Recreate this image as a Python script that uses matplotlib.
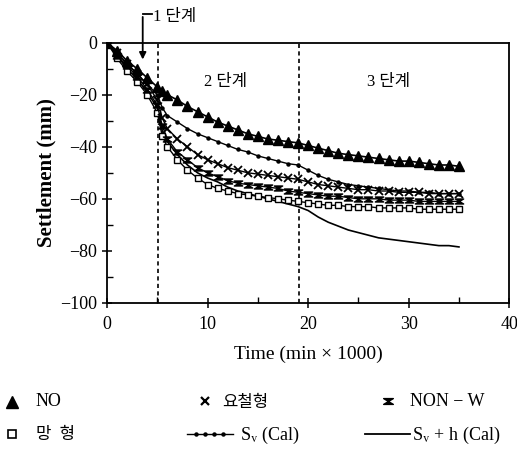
import matplotlib
matplotlib.use("Agg")
import matplotlib.pyplot as plt
from matplotlib.lines import Line2D
from matplotlib.path import Path
from matplotlib.ticker import MultipleLocator

plt.rcParams['font.family'] = ['Liberation Serif', 'Noto Sans CJK KR', 'DejaVu Sans']
plt.rcParams['mathtext.fontset'] = 'stix'

# ---- data ----
time_k = [0, 1, 2, 3, 4, 5, 5.5, 6, 7, 8, 9, 10, 11, 12, 13, 14, 15, 16, 17, 18, 19, 20,
          21, 22, 23, 24, 25, 26, 27, 28, 29, 30, 31, 32, 33, 34, 35]
no_vals = [0, -3, -7, -10, -13.5, -17, -18.5, -20, -22, -24.5, -26.5, -28.5,
           -30.5, -32, -33.5, -35, -36, -37, -37.5, -38, -38.5, -39.5,
           -40.5, -41.5, -42.5, -43, -43.5, -44, -44.5, -45, -45.5, -45.5,
           -46, -46.5, -47, -47, -47.5]
yochul_vals = [0, -4, -8, -12, -16, -22, -29, -33, -37, -40, -43, -45,
               -46.5, -48, -49, -50, -50.5, -51, -51.5, -52, -52.5, -53.5,
               -54.5, -55, -55.5, -56, -56.5, -56.5, -57, -57, -57.5, -57.5,
               -57.5, -58, -58, -58, -58]
nonw_vals = [0, -5, -9, -13, -18, -24, -32, -37, -42, -45, -48, -50,
             -51.5, -53, -54, -54.5, -55, -55.5, -56, -57, -57.5, -58,
             -58.5, -59, -59, -59.5, -60, -60, -60, -60.5, -60.5, -60.5,
             -61, -61, -61, -61, -61]
mang_vals = [0, -6, -11, -15, -20, -27, -36, -40, -45, -49, -52, -54.5,
             -56, -57, -58, -58.5, -59, -59.5, -60, -60.5, -61, -61.5,
             -62, -62.5, -62.5, -63, -63, -63, -63.5, -63.5, -63.5, -63.5,
             -64, -64, -64, -64, -64]
sv_cal = [0, -4, -8, -12, -16, -20, -25, -28, -30.5, -33, -35, -36.5,
          -38, -39.5, -41, -42, -43.5, -44.5, -45.5, -46.5, -47, -49,
          -51, -52.5, -53.5, -54.5, -55, -55.5, -56, -56.5, -57, -57,
          -57.5, -57.5, -58, -58, -58]
svh_cal = [0, -5, -10, -14, -19, -25, -34, -38, -43, -47, -50, -52,
           -53.5, -55.5, -57, -58, -59, -60, -61, -62, -63, -64.5,
           -67, -69, -70.5, -72, -73, -74, -75, -75.5, -76, -76.5,
           -77, -77.5, -78, -78, -78.5]
stage_bounds = [5.1, 19.1]
x_ticks = [0, 10, 20, 30, 40]
y_ticks = [0, -20, -40, -60, -80, -100]

hourglass = Path([(-1, 0.6), (1, 0.6), (-1, -0.6), (1, -0.6), (-1, 0.6)],
                 [Path.MOVETO, Path.LINETO, Path.LINETO, Path.LINETO, Path.CLOSEPOLY])

fig = plt.figure(figsize=(5.17, 4.5), dpi=100)
ax = fig.add_axes([0.207, 0.327, 0.778, 0.578])

ax.plot(time_k, svh_cal, '-', color='black', lw=1.2, zorder=2)
ax.plot(time_k, sv_cal, '-', color='black', lw=1.0, marker='o', ms=2.2, zorder=3)
ax.plot(time_k, mang_vals, '-', color='black', lw=1.0, marker='s', ms=5,
        mfc='white', mec='black', mew=1.0, zorder=4)
ax.plot(time_k, nonw_vals, '-', color='black', lw=1.0, marker=hourglass, ms=6,
        mfc='black', mec='black', zorder=4)
ax.plot(time_k, yochul_vals, '-', color='black', lw=1.0, marker='x', ms=6,
        mew=1.3, zorder=5)
ax.plot(time_k, no_vals, '-', color='black', lw=1.2, marker='^', ms=7.5,
        mfc='black', mec='black', zorder=6)

for xb in stage_bounds:
    ax.axvline(xb, color='black', lw=1.2, ls=(0, (2.5, 2)), zorder=1)

ax.set_xlim(0, 40)
ax.set_ylim(-100, 0)
ax.set_xticks(x_ticks)
ax.set_yticks(y_ticks)
ax.set_yticklabels(['0'] + ['\u2212%d' % abs(v) for v in y_ticks[1:]])
ax.xaxis.set_minor_locator(MultipleLocator(5))
ax.yaxis.set_minor_locator(MultipleLocator(10))
ax.tick_params(axis='both', which='major', direction='inout', length=7, width=1.1,
               labelsize=13, color='black')
ax.tick_params(axis='both', which='minor', direction='in', length=4, width=1.0)
ax.tick_params(axis='x', pad=6)
for s in ax.spines.values():
    s.set_linewidth(1.3)

ax.set_xlabel('Time (min \u00d7 1000)', fontsize=14, labelpad=9)
ax.set_ylabel('Settlement (mm)', fontsize=15, fontweight='bold', labelpad=3)

ax.text(11.8, -15, '2 단계', fontsize=12, ha='center', va='center')
ax.text(28.0, -15, '3 단계', fontsize=12, ha='center', va='center')
ax.annotate('', xy=(3.55, -7.5), xytext=(3.55, 11), annotation_clip=False,
            arrowprops=dict(arrowstyle='-|>', color='black', lw=1.3, mutation_scale=10))
ax.plot([3.55, 4.5], [11, 11], color='black', lw=1.3, clip_on=False)
ax.text(4.6, 9.8, '1 단계', fontsize=12, ha='left', va='center')

# ---- legend (manual) ----
def fig_xy(px, py):
    return px / 517.0, 1 - py / 450.0

def leg_marker(pxs, py, **kw):
    xs = [p / 517.0 for p in pxs]
    y = 1 - py / 450.0
    fig.add_artist(Line2D(xs, [y] * len(xs), transform=fig.transFigure, ls='none',
                          color='black', **kw))

def leg_line(px0, px1, py, **kw):
    x0, y = fig_xy(px0, py)
    x1, _ = fig_xy(px1, py)
    fig.add_artist(Line2D([x0, x1], [y, y], transform=fig.transFigure, color='black', **kw))

def leg_text(px, py, s, size=13):
    x, y = fig_xy(px, py)
    fig.text(x, y, s, ha='left', va='center', fontsize=size)

leg_marker([12], 402, marker='^', ms=8, mfc='black', mec='black')
leg_text(36, 402, 'NO')
leg_marker([205], 401, marker='x', ms=6, mew=1.6)
leg_text(222, 403, '요철형', size=12)
leg_marker([388], 401, marker=hourglass, ms=7, mfc='black', mec='black')
leg_text(410, 402, 'NON \u2212 W')

leg_marker([12], 434, marker='s', ms=6, mfc='white', mec='black', mew=1.2)
leg_text(36, 435, '망  형', size=12)
leg_line(187, 233, 434, lw=1.0)
leg_marker([196, 205, 214, 223], 434, marker='o', ms=2.2)
leg_text(240, 435, r'S$_{\mathrm{v}}$ (Cal)')
leg_line(365, 410, 434, lw=1.3)
leg_text(412, 435, r'S$_{\mathrm{v}}$ + h (Cal)')

fig.savefig('out.png', dpi=100)
